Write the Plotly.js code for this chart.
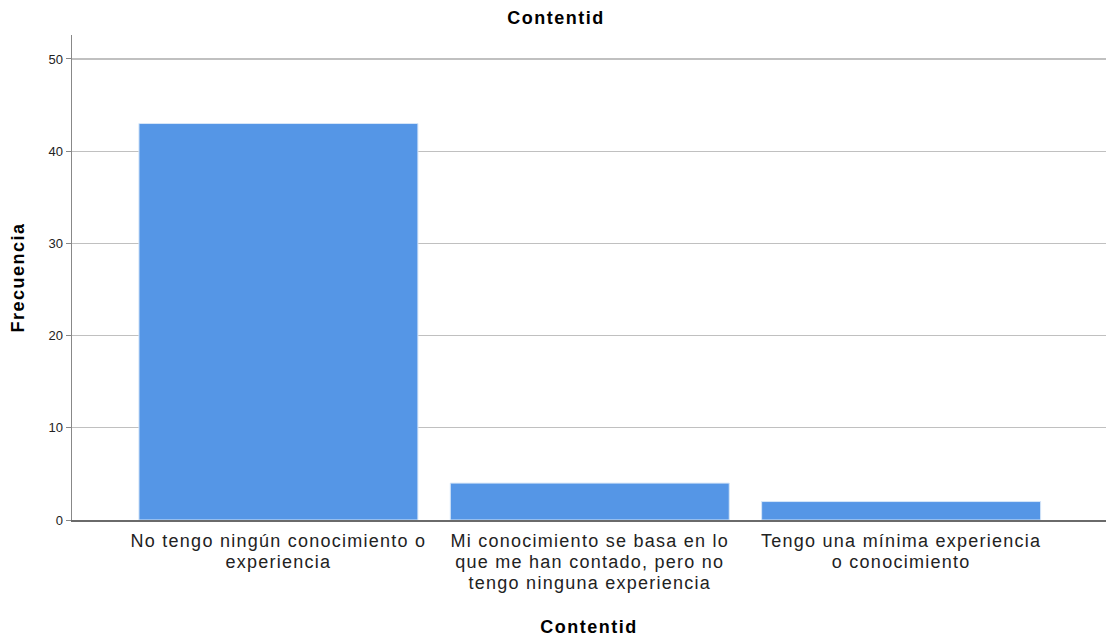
<!DOCTYPE html>
<html><head><meta charset="utf-8">
<script src="https://cdn.plot.ly/plotly-3.0.1.min.js"></script>
<style>html,body{margin:0;padding:0;background:#fff}#chart{width:1112px;height:642px}
.xtick text{letter-spacing:1.25px}
.gtitle,.xtitle,.ytitle{letter-spacing:1.5px}</style>
</head><body><div id="chart"></div>
<script>
const categories = [
  "No tengo ningún conocimiento o<br>experiencia",
  "Mi conocimiento se basa en lo<br>que me han contado, pero no<br>tengo ninguna experiencia",
  "Tengo una mínima experiencia<br>o conocimiento"
];
const frecuencia = [43, 4, 2];
const yTicks = [0, 10, 20, 30, 40, 50];

const trace = {
  type: 'bar',
  x: [0, 1, 2],
  y: frecuencia,
  width: 0.896,
  marker: {color: '#5596e6', line: {color: '#d6e6f8', width: 1}},
  hoverinfo: 'y'
};
const layout = {
  width: 1112, height: 642,
  margin: {l: 72, r: 6, t: 35, b: 122},
  paper_bgcolor: '#fff', plot_bgcolor: '#fff',
  font: {family: 'Liberation Sans, Arial, sans-serif', color: '#000'},
  title: {text: '<b>Contentid</b>', font: {size: 18, color: '#000'}, x: 0.5, xanchor: 'center', y: 0.972, yanchor: 'middle'},
  bargap: 0,
  showlegend: false,
  xaxis: {
    range: [-0.663, 2.658],
    tickvals: [0, 1, 2], ticktext: categories,
    tickfont: {size: 18, color: '#222'},
    ticklabelstandoff: 4,
    showgrid: false, zeroline: false,
    showline: true, linecolor: '#6a6a6a', linewidth: 1.5,
    ticks: '', ticklen: 0,
    title: {text: '<b>Contentid</b>', font: {size: 18, color: '#000'}, standoff: 23}
  },
  yaxis: {
    range: [0, 52.6],
    tickvals: yTicks,
    tickfont: {size: 13, color: '#222'},
    showgrid: true, gridcolor: '#c0c0c0', gridwidth: 1.2,
    zeroline: false,
    showline: true, linecolor: '#888', linewidth: 1.5,
    ticks: 'outside', ticklen: 5, tickcolor: '#888',
    title: {text: '<b>Frecuencia</b>', font: {size: 18, color: '#000'}, standoff: 19}
  }
};
Plotly.newPlot('chart', [trace], layout, {displayModeBar: false, staticPlot: true}).then(function () {
  document.querySelectorAll('.xtick text').forEach(function (txt) {
    txt.querySelectorAll('tspan.line').forEach(function (t, i) {
      t.setAttribute('dy', (i * 1.17) + 'em');
    });
  });
});
</script></body></html>
